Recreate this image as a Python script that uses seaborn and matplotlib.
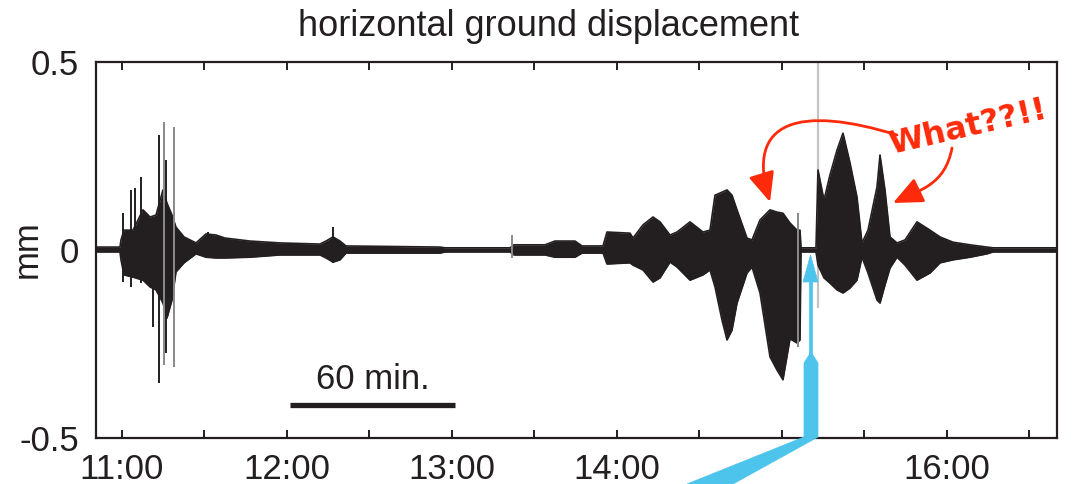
import matplotlib
matplotlib.use("Agg")
import numpy as np
import pandas as pd
import matplotlib.pyplot as plt
import seaborn as sns
from matplotlib.patches import Polygon, FancyArrowPatch
from matplotlib.path import Path

# ---------------- data (minutes after 11:00, displacement in mm) ----------------
minutes = [-9.45, -0.73, -0.36, 0.73, 4.0, 7.64, 10.18, 12.36, 14.91, 16.36, 18.18,
           19.64, 22.55, 26.91, 30.55, 34.18, 37.45, 46.55, 57.45, 72.0, 74.18, 76.73,
           79.27, 81.45, 115.64, 117.45, 141.09, 142.55, 153.82, 157.45, 164.73, 167.27,
           174.91, 176.36, 184.73, 185.82, 189.45, 193.09, 195.64, 199.27, 201.82, 206.55,
           211.27, 213.82, 215.64, 218.18, 220.0, 221.82, 223.64, 227.27, 229.09, 232.0,
           235.64, 238.18, 240.36, 242.91, 245.45, 246.55, 246.91, 252.36, 253.09, 255.27,
           257.45, 260.0, 262.18, 264.73, 267.27, 269.09, 271.27, 274.55, 275.64, 277.45,
           279.27, 281.82, 284.73, 289.09, 293.82, 297.45, 302.18, 308.36, 314.55, 316.73,
           339.64]
upper = [0.007, 0.007, 0.026, 0.052, 0.052, 0.106, 0.087, 0.092, 0.159, 0.124, 0.092,
         0.060, 0.034, 0.018, 0.042, 0.039, 0.031, 0.023, 0.018, 0.015, 0.023, 0.034,
         0.023, 0.010, 0.007, 0.005, 0.005, 0.013, 0.013, 0.023, 0.023, 0.010,
         0.010, 0.047, 0.044, 0.031, 0.066, 0.087, 0.074, 0.039, 0.047, 0.074,
         0.047, 0.052, 0.145, 0.153, 0.159, 0.145, 0.106, 0.031, 0.026, 0.079,
         0.106, 0.100, 0.097, 0.071, 0.052, 0.052, 0.005, 0.005, 0.212, 0.132,
         0.199, 0.265, 0.310, 0.231, 0.140, 0.018, 0.052, 0.167, 0.252, 0.159,
         0.034, 0.018, 0.026, 0.074, 0.052, 0.034, 0.020, 0.013, 0.007, 0.005,
         0.005]
lower = [-0.006, -0.006, -0.027, -0.067, -0.073, -0.081, -0.099, -0.107, -0.142, -0.182, -0.134,
         -0.059, -0.035, -0.011, -0.020, -0.022, -0.022, -0.020, -0.014, -0.014, -0.022, -0.033,
         -0.027, -0.009, -0.009, -0.006, -0.006, -0.014, -0.014, -0.020, -0.020, -0.009,
         -0.009, -0.038, -0.035, -0.041, -0.054, -0.086, -0.075, -0.033, -0.046, -0.081,
         -0.067, -0.054, -0.099, -0.187, -0.240, -0.214, -0.142, -0.062, -0.046, -0.115,
         -0.285, -0.320, -0.346, -0.237, -0.248, -0.240, -0.006, -0.006, -0.041, -0.075,
         -0.089, -0.107, -0.115, -0.102, -0.081, -0.020, -0.062, -0.134, -0.142, -0.094,
         -0.049, -0.020, -0.041, -0.081, -0.062, -0.035, -0.027, -0.020, -0.011, -0.006,
         -0.006]

spike_minutes = [0.36, 3.27, 4.73, 6.91, 11.27, 13.45, 15.27, 16.0, 18.91, 31.27, 76.73, 141.82, 245.82]
spike_top = [0.098, 0.159, 0.164, 0.193, 0.052, 0.305, 0.340, 0.239, 0.326, 0.047, 0.060, 0.039, 0.098]
spike_bottom = [-0.086, -0.099, -0.054, -0.089, -0.205, -0.354, -0.306, -0.275, -0.312, -0.022, -0.035, -0.022, -0.259]
spike_shade = ["dark", "dark", "dark", "dark", "dark", "dark", "grey", "dark", "grey", "dark", "dark", "grey", "grey"]

marker_minute = 253.1          # grey vertical marker line
marker_bottom = -0.155

tick_minutes = [0, 30, 60, 90, 120, 150, 180, 210, 240, 270, 300, 330]
tick_labels = ["11:00", "", "12:00", "", "13:00", "", "14:00", "", "", "", "16:00", ""]
ytick_values = [-0.5, 0, 0.5]
ytick_labels = ["-0.5", "0", "0.5"]

scalebar_start = 61.1
scalebar_length = 60
scalebar_label = "60 min."

# ---------------- style ----------------
sns.set_theme(style="ticks")
plt.rcParams["font.family"] = ["Liberation Sans", "DejaVu Sans"]
DARK = "#231f20"
W, H = 1081, 484
FS = 25

fig = plt.figure(figsize=(W / 100, H / 100), dpi=100)
ax = fig.add_axes([96 / W, 1 - 437.7 / H, (1057 - 96) / W, (437.7 - 61.7) / H])

df = pd.DataFrame({"minutes": minutes, "upper": upper, "lower": lower})

# grey vertical marker line
ax.vlines(marker_minute, marker_bottom, 0.5, color="#c4c4c4", lw=1.6, zorder=1)

# waveform envelope
ax.fill_between(df["minutes"], df["lower"], df["upper"], color=DARK, lw=0, zorder=2)
sns.lineplot(data=df, x="minutes", y="upper", ax=ax, color=DARK, lw=1.2, zorder=3)
sns.lineplot(data=df, x="minutes", y="lower", ax=ax, color=DARK, lw=1.2, zorder=3)

# spikes
for t, top, bot, sh in zip(spike_minutes, spike_top, spike_bottom, spike_shade):
    ax.vlines(t, bot, top, color=DARK if sh == "dark" else "#8a8a8a", lw=1.4, zorder=3)

# scale bar
ax.plot([scalebar_start, scalebar_start + scalebar_length], [-0.413, -0.413],
        color=DARK, lw=3.8, solid_capstyle="butt", zorder=3)
ax.text(scalebar_start + scalebar_length / 2, -0.388, scalebar_label, ha="center",
        va="bottom", fontsize=FS, color=DARK)

ax.set_xlim(-9.45, 340.0)
ax.set_ylim(-0.5, 0.5)
ax.set_xticks(tick_minutes)
ax.set_xticklabels(tick_labels)
ax.set_yticks(ytick_values)
ax.set_yticklabels(ytick_labels)
ax.set_xlabel("")
ax.set_ylabel("")
for sp in ax.spines.values():
    sp.set_visible(True)
    sp.set_linewidth(1.6)
    sp.set_color(DARK)
ax.tick_params(axis="x", direction="in", length=6, width=1.4, top=True, bottom=True,
               pad=11, labelsize=FS, colors=DARK)
ax.tick_params(axis="y", length=0, pad=12, labelsize=FS, colors=DARK)

fig.text(27 / W, 1 - 249 / H, "mm", rotation=90, ha="center", va="center",
         fontsize=FS, color=DARK)
fig.text(549 / W, 1 - 27 / H, "horizontal ground displacement", ha="center", va="center",
         fontsize=26, color=DARK)

# ---------------- annotations ----------------
def px(x, y):
    return (x / W, 1 - y / H)

RED = "#ff2a0a"
for pts in ([(897, 135), (800, 105), (745, 120), (770, 202)],
            [(952, 148), (945, 185), (920, 190), (893, 203)]):
    path = Path([px(*p) for p in pts], [Path.MOVETO, Path.CURVE4, Path.CURVE4, Path.CURVE4])
    arr = FancyArrowPatch(path=path, arrowstyle="-|>,head_length=0.9,head_width=0.4",
                          mutation_scale=20, color=RED, lw=2.0,
                          transform=fig.transFigure, zorder=10)
    fig.add_artist(arr)

fig.text(968 / W, 1 - 128 / H, "What??!!", rotation=13, ha="center", va="center",
         fontsize=23, fontweight="bold", color=RED, family=["DejaVu Sans"])

BLUE = "#4cc4ec"
blue_polys = [
    [(803, 282), (818, 282), (810.5, 255)],
    [(808.8, 281), (812.2, 281), (812.2, 356), (808.8, 356)],
    [(804, 437), (804, 363), (811, 352), (818, 363), (818, 437)],
    [(804, 437), (818, 437), (733, 484), (687, 484)],
]
for poly in blue_polys:
    fig.add_artist(Polygon([px(*p) for p in poly], closed=True, facecolor=BLUE,
                           edgecolor=BLUE, lw=0.5, transform=fig.transFigure, zorder=20))

fig.savefig("out.png", dpi=100)
